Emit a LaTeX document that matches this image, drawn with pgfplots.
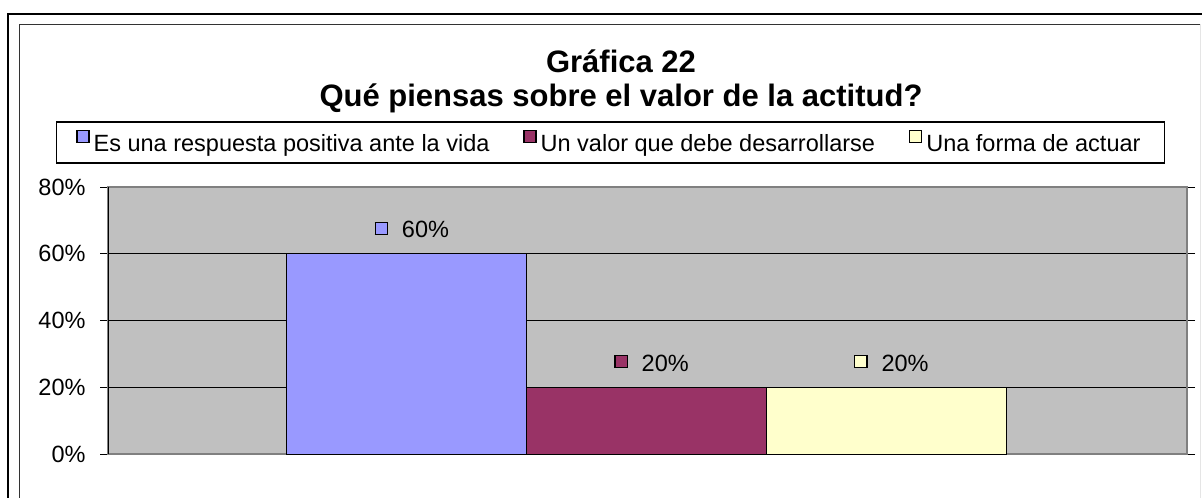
\documentclass[border=0pt]{standalone}
\usepackage{pgfplots}
\pgfplotsset{compat=1.18}
\usepackage{fontspec}
\setmainfont{Liberation Sans}
\definecolor{cA}{HTML}{9999FF}
\definecolor{cB}{HTML}{993366}
\definecolor{cC}{HTML}{FFFFCC}
\definecolor{bgg}{HTML}{C0C0C0}
\definecolor{frm}{HTML}{808080}
\newcommand{\sqbox}[1]{{\setlength\fboxsep{0pt}\setlength\fboxrule{1.2bp}\raisebox{4bp}{\fcolorbox{black}{#1}{\rule{0pt}{11bp}\rule{11bp}{0pt}}}}}
\begin{document}
\begin{tikzpicture}
\useasboundingbox (0,0) rectangle (1202bp,-498bp);
\fill[white] (0,0) rectangle (1202bp,-498bp);
% outer frame
\draw[line width=1.5bp,black] (8bp,-530bp) -- (8bp,-14bp) -- (1230bp,-14bp);
% inner frame
\draw[line width=1bp,black!80] (19bp,-530bp) -- (19bp,-24bp) -- (1200.5bp,-24bp);
\draw[line width=1bp,black!10] (1200.5bp,-24bp) -- (1200.5bp,-530bp);
% title
\node[anchor=base,font=\fontsize{31bp}{34bp}\selectfont\bfseries] at (621bp,-72bp) {Gráfica 22};
\node[anchor=base,font=\fontsize{31bp}{34bp}\selectfont\bfseries] at (621bp,-106bp) {Qué piensas sobre el valor de la actitud?};
\begin{axis}[
  at={(108bp,-454bp)}, anchor=south west,
  scale only axis, width=1079bp, height=267bp,
  xmin=-0.246, xmax=4.254, ymin=0, ymax=80,
  xtick=\empty,
  ytick={0,20,40,60,80},
  yticklabel={\pgfmathprintnumber{\tick}\%},
  /pgf/number format/assume math mode=true,
  tick align=outside, major tick length=8bp,
  ytick style={black, line width=1bp},
  ymajorgrids, grid style={black, line width=1.2bp},
  axis line style={frm, line width=1.5bp},
  axis background/.style={fill=bgg},
  ticklabel style={font=\fontsize{23.5bp}{27bp}\selectfont},
  yticklabel style={xshift=-11bp},
  ybar, bar width=1, bar shift=0pt,
  every node near coord/.append style={anchor=base, yshift=16bp, xshift=5bp, inner sep=0pt, font=\fontsize{23.5bp}{27bp}\selectfont, black},
  legend columns=3,
  legend image code/.code={\draw[line width=1.2bp,draw=black] (-3bp,1bp) rectangle (9bp,13bp);},
  legend style={at={(0.4657,1.1667)}, anchor=center, draw=black, line width=1.2bp,
    font=\fontsize{23.5bp}{27bp}\selectfont, inner xsep=20bp, inner ysep=8bp,
    nodes={inner xsep=4bp},
    /tikz/every even column/.append style={column sep=30bp}},
]
\addplot[fill=cA, draw=black, line width=1bp,
  nodes near coords={\sqbox{cA}\hspace{14bp}\pgfmathprintnumber{\pgfplotspointmeta}\%}] coordinates {(1,60)};
\addlegendentry{Es una respuesta positiva ante la vida}
\addplot[fill=cB, draw=black, line width=1bp,
  nodes near coords={\sqbox{cB}\hspace{14bp}\pgfmathprintnumber{\pgfplotspointmeta}\%}] coordinates {(2,20)};
\addlegendentry{Un valor que debe desarrollarse}
\addplot[fill=cC, draw=black, line width=1bp,
  nodes near coords={\sqbox{cC}\hspace{14bp}\pgfmathprintnumber{\pgfplotspointmeta}\%}] coordinates {(3,20)};
\addlegendentry{Una forma de actuar}
\draw[black, line width=1.5bp] (rel axis cs:0,0) -- (rel axis cs:0,1);
\end{axis}
\end{tikzpicture}
\end{document}
